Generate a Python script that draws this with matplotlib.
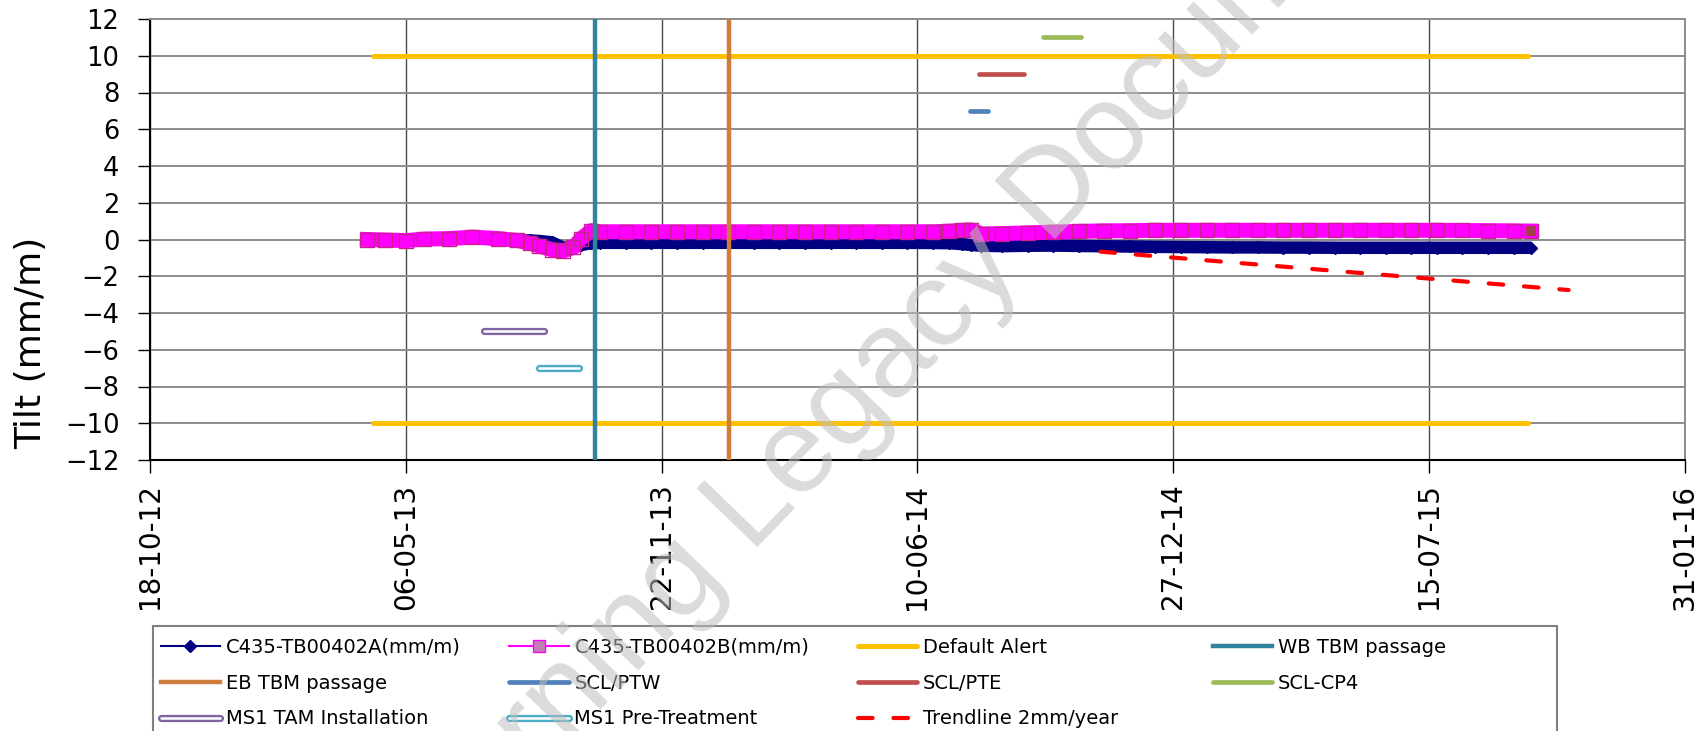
import numpy as np
import pandas as pd
import matplotlib
matplotlib.use("Agg")
import matplotlib.pyplot as plt
import matplotlib.dates as mdates
import matplotlib.patheffects as pe
from matplotlib.lines import Line2D
from matplotlib.patches import Rectangle

plt.rcParams['font.family'] = ['DejaVu Sans']

# ---------------- data ----------------
dates = ['2013-04-06', '2013-04-20', '2013-05-06', '2013-05-20', '2013-06-09', '2013-06-27',
         '2013-07-17', '2013-08-01', '2013-08-11', '2013-08-18', '2013-08-28', '2013-09-06',
         '2013-09-14', '2013-09-20', '2013-09-28',
         '2013-10-05', '2013-10-25', '2013-11-14', '2013-12-04', '2013-12-24', '2014-01-13',
         '2014-02-02', '2014-02-22', '2014-03-14', '2014-04-03', '2014-04-23', '2014-05-13',
         '2014-06-02', '2014-06-22',
         '2014-07-05', '2014-07-15', '2014-07-22', '2014-07-30', '2014-08-15', '2014-09-04',
         '2014-09-24', '2014-10-14', '2014-11-03', '2014-11-23', '2014-12-13',
         '2015-01-02', '2015-01-22', '2015-02-11', '2015-03-03', '2015-03-23', '2015-04-12',
         '2015-05-02', '2015-05-22', '2015-06-11', '2015-07-01', '2015-07-21', '2015-08-10',
         '2015-08-30', '2015-09-19', '2015-10-03']

tilt_A = [0.00, -0.03, -0.05, 0.00, 0.05, 0.10, 0.00, -0.05, -0.05, -0.08, -0.15, -0.45,
          -0.42, -0.30, -0.20,
          -0.18, -0.18, -0.18, -0.18, -0.18, -0.18, -0.18, -0.18, -0.18, -0.18, -0.18, -0.18,
          -0.18, -0.19,
          -0.20, -0.25, -0.30, -0.34, -0.36, -0.34, -0.33, -0.35, -0.37, -0.38, -0.40,
          -0.41, -0.42, -0.43, -0.43, -0.44, -0.44, -0.45, -0.45, -0.45, -0.45, -0.45, -0.45,
          -0.45, -0.45, -0.45]

tilt_B = [0.00, -0.03, -0.06, 0.02, 0.05, 0.13, 0.05, -0.05, -0.20, -0.35, -0.55, -0.62,
          -0.43, 0.05, 0.48,
          0.42, 0.42, 0.42, 0.42, 0.42, 0.42, 0.42, 0.42, 0.42, 0.42, 0.42, 0.42,
          0.42, 0.42,
          0.45, 0.50, 0.52, 0.30, 0.32, 0.36, 0.40, 0.44, 0.47, 0.48, 0.50,
          0.50, 0.50, 0.50, 0.50, 0.50, 0.50, 0.50, 0.50, 0.50, 0.50, 0.50, 0.49,
          0.48, 0.47, 0.45]

alert_dates = ['2013-04-10', '2015-09-30']
alert_level = 10

wb_tbm_date = '2013-10-01'
eb_tbm_date = '2014-01-14'
passage_range = [-12, 12]

scl_ptw_dates = ['2014-07-21', '2014-08-04']
scl_ptw_level = 7
scl_pte_dates = ['2014-07-28', '2014-09-01']
scl_pte_level = 9
scl_cp4_dates = ['2014-09-16', '2014-10-16']
scl_cp4_level = 11
ms1_tam_dates = ['2013-07-06', '2013-08-22']
ms1_tam_level = -5
ms1_pre_dates = ['2013-08-18', '2013-09-18']
ms1_pre_level = -7

trend_dates = ['2014-10-31', '2015-11-01']
trend_vals = [-0.66, -2.75]

x_ticks = ['2012-10-18', '2013-05-06', '2013-11-22', '2014-06-10',
           '2014-12-27', '2015-07-15', '2016-01-31']
y_ticks = list(range(-12, 13, 2))

# ---------------- figure ----------------
W, H = 1708, 731
fig = plt.figure(figsize=(W / 100, H / 100), dpi=100)
ax = fig.add_axes([150 / W, 1 - 460 / H, (1685 - 150) / W, (460 - 19) / H])

td = lambda lst: pd.to_datetime(lst)
d = td(dates)

# series A (navy band with diamonds)
ax.plot(d, tilt_A, color='#000080', lw=9, marker='D', ms=6.5, mfc='#000080',
        mec='#000080', solid_joinstyle='round', solid_capstyle='butt', zorder=3)
# series B (magenta band with square markers)
ax.plot(d, tilt_B, color='#FF00FF', lw=10.8, marker='s', ms=10, mfc='none',
        mec='#C8208C', mew=1.0, solid_joinstyle='round', zorder=4)
ax.plot(d[-1:], tilt_B[-1:], linestyle='none', marker='s', ms=9, mfc='#A0404E',
        mec='#FF00FF', mew=1.5, zorder=4)

# default alert
l_alert, = ax.plot(td(alert_dates), [alert_level] * 2, color='#FFC000', lw=3.6,
                   solid_capstyle='round', zorder=5, label='Default Alert')
ax.plot(td(alert_dates), [-alert_level] * 2, color='#FFC000', lw=3.6,
        solid_capstyle='round', zorder=5)
# TBM passages
l_wb, = ax.plot(td([wb_tbm_date] * 2), passage_range, color='#31849B', lw=3.2,
                zorder=5, label='WB TBM passage')
l_eb, = ax.plot(td([eb_tbm_date] * 2), passage_range, color='#CF7B3A', lw=3.2,
                zorder=5, label='EB TBM passage')
# SCL bars
l_ptw, = ax.plot(td(scl_ptw_dates), [scl_ptw_level] * 2, color='#4F81BD', lw=3.4,
                 solid_capstyle='round', zorder=5, label='SCL/PTW')
l_pte, = ax.plot(td(scl_pte_dates), [scl_pte_level] * 2, color='#C0504D', lw=3.4,
                 solid_capstyle='round', zorder=5, label='SCL/PTE')
l_cp4, = ax.plot(td(scl_cp4_dates), [scl_cp4_level] * 2, color='#9BBB59', lw=3.4,
                 solid_capstyle='round', zorder=5, label='SCL-CP4')
# MS1 double lines
l_tam, = ax.plot(td(ms1_tam_dates), [ms1_tam_level] * 2, color='white', lw=1.8,
                 solid_capstyle='round', zorder=5, label='MS1 TAM Installation',
                 path_effects=[pe.Stroke(linewidth=5.2, foreground='#8064A2'), pe.Normal()])
l_pre, = ax.plot(td(ms1_pre_dates), [ms1_pre_level] * 2, color='white', lw=1.8,
                 solid_capstyle='round', zorder=5, label='MS1 Pre-Treatment',
                 path_effects=[pe.Stroke(linewidth=5.2, foreground='#4BACC6'), pe.Normal()])
# trendline
l_tr, = ax.plot(td(trend_dates), trend_vals, color='#FF0000', lw=3.0,
                dashes=(3.5, 5), dash_capstyle='round', zorder=5,
                label='Trendline 2mm/year')

# axes styling
ax.set_xlim(pd.Timestamp(x_ticks[0]), pd.Timestamp(x_ticks[-1]))
ax.set_ylim(-12, 12)
ax.set_xticks(td(x_ticks))
ax.xaxis.set_major_formatter(mdates.DateFormatter('%d-%m-%y'))
ax.set_yticks(y_ticks)
ax.tick_params(axis='x', length=9, width=1, pad=8, labelsize=20, labelrotation=90)
ax.tick_params(axis='y', length=9, width=1, pad=13, labelsize=18.5)
ax.grid(axis='y', color='#8C8C8C', lw=1.4, zorder=0)
ax.grid(axis='x', color='#4A4A4A', lw=1.0, zorder=0)
ax.set_axisbelow(True)
for s in ['left', 'bottom']:
    ax.spines[s].set_color('black')
    ax.spines[s].set_linewidth(1.5)
for s in ['top', 'right']:
    ax.spines[s].set_color('#8C8C8C')
    ax.spines[s].set_linewidth(1.4)

fig.text(31 / W, 1 - 343 / H, 'Tilt (mm/m)', rotation=90, ha='center', va='center',
         fontsize=26)

# legend
h_A = Line2D([], [], color='#000080', lw=1.5, marker='D', ms=6, mfc='#000080', mec='#000080')
h_B = Line2D([], [], color='#FF00FF', lw=1.5, marker='s', ms=8, mfc='#C080B0', mec='#FF00FF')
handles1 = [h_A, l_eb, l_tam, h_B, l_ptw, l_pre, l_alert, l_pte, l_tr]
labels1 = ['C435-TB00402A(mm/m)', 'EB TBM passage', 'MS1 TAM Installation',
           'C435-TB00402B(mm/m)', 'SCL/PTW', 'MS1 Pre-Treatment',
           'Default Alert', 'SCL/PTE', 'Trendline 2mm/year']
common = dict(loc='upper left', bbox_transform=fig.transFigure, borderaxespad=0,
              frameon=False, fontsize=14, handlelength=3.05, handletextpad=0.3,
              labelspacing=0.87, borderpad=0.6, numpoints=1)
leg1 = fig.legend(handles1, labels1, ncol=3, columnspacing=2.5,
                  bbox_to_anchor=(149 / W, 1 - 626 / H), **common)
leg2 = fig.legend([l_wb, l_cp4], ['WB TBM passage', 'SCL-CP4'], ncol=1,
                  bbox_to_anchor=(1201 / W, 1 - 626 / H), **common)
fig.add_artist(Rectangle((153 / W, -0.05), (1557 - 153) / W, (731 - 626) / H + 0.05,
                         transform=fig.transFigure, fill=False, ec='#808080', lw=1.5))

# watermark
fig.text(893 / W, 1 - 361 / H, 'Learning Legacy Document', rotation=46, fontsize=88,
         color='#BDBDBD', alpha=0.55, ha='center', va='center', rotation_mode='anchor',
         family='Liberation Sans', zorder=10)

fig.savefig('out.png', dpi=100)
